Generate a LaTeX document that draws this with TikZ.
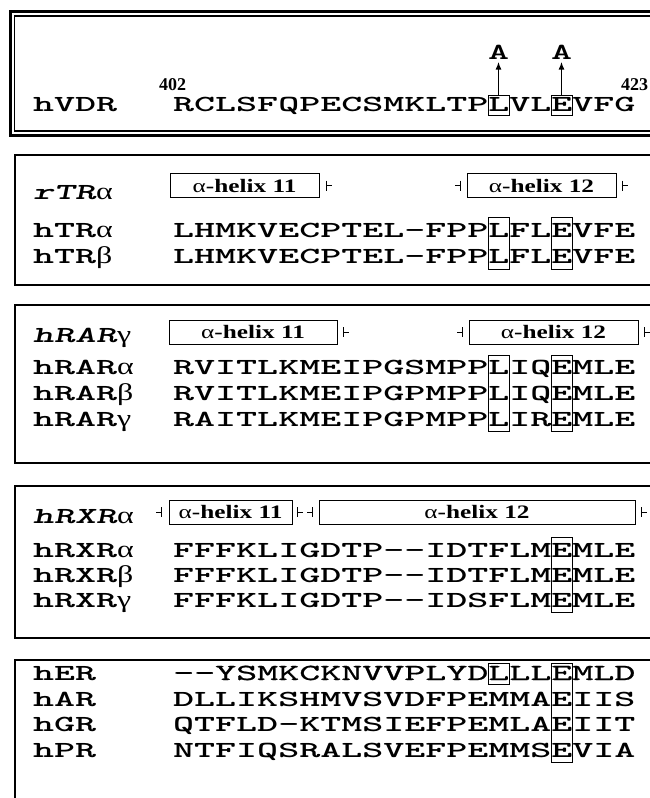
\documentclass[tikz,border=0pt]{standalone}
\usepackage{fontspec}
\usetikzlibrary{positioning,arrows.meta}
\newfontfamily\seqfont[FakeStretch=1.74]{lmmonolt10-bold.otf}
\newfontfamily\seqslant[FakeStretch=1.74,FakeSlant=0.2]{lmmonolt10-bold.otf}
\newfontfamily\seqlight[FakeStretch=1.74,FakeBold=1]{lmmono10-regular.otf}
\newfontfamily\tms[FakeStretch=1.33]{Liberation Serif}
\newfontfamily\tmsplain{Liberation Serif}
\newcommand\gk[1]{{\tms\fontsize{24}{24}\selectfont #1}}
\newcommand\hlx[1]{{\tms\fontsize{19}{19}\selectfont α\bfseries-helix #1}}
\newcommand\gap{\mbox{-}}

\begin{document}
\begin{tikzpicture}[x=1pt,y=-1pt,
  panel/.style={draw,line width=1.8pt},
  rowlbl/.style={anchor=base west,inner sep=0pt,font=\fontsize{23}{23}\seqfont},
  hdrlbl/.style={anchor=base west,inner sep=0pt,font=\fontsize{23}{23}\seqslant},
  seqtxt/.style={rowlbl},
  helix/.style={draw,line width=0.9pt,minimum height=24pt,inner sep=0pt},
  helixend/.style={line width=0.9pt},
  hitbox/.style={draw,line width=0.9pt,inner sep=0pt,minimum width=21pt},
  resnum/.style={anchor=base west,inner sep=0pt,font=\fontsize{18}{18}\tmsplain\bfseries},
  mutA/.style={inner sep=2pt,font=\fontsize{23}{23}\seqfont},
  mutarrow/.style={-{Latex[length=8pt,width=6pt]},line width=1.6pt}]
\fill[white] (0,0) rectangle (650,798);
\useasboundingbox (0,0) rectangle (650,798);
\clip (0,0) rectangle (650,798);

% panels
\draw[line width=3pt] (10,11.5) rectangle (680,135.5);
\draw[line width=1.2pt] (14.5,16) rectangle (676,131);
\draw[panel] (15,155) rectangle (680,285);
\draw[panel] (15,305) rectangle (680,463);
\draw[panel] (15,486) rectangle (680,638);
\draw[panel] (15,660) rectangle (680,830);

% VDR
\node[rowlbl] (vdr) at (33,111) {hVDR};
\node[seqtxt] (vdrseq) at (173,111) {RCLSFQPECSMKLTPLVLEVFG};
\node[resnum] (n402) at (159,90) {402};
\node[resnum] (n423) at (621,90) {423};
\node[hitbox,minimum height=20pt] (vdrL) at (498.5,105) {};
\node[hitbox,minimum height=20pt] (vdrE) at (561.5,105) {};
\node[mutA,above=33pt of vdrL] (mutL) {A};
\node[mutA,above=33pt of vdrE] (mutE) {A};
\draw[mutarrow] (vdrL) -- (mutL);
\draw[mutarrow] (vdrE) -- (mutE);

% TR
\node[hdrlbl] (rtra) at (33,199) {rTR\gk{α}};
\node[helix,minimum width=149pt] (tr11) at (244.5,185.5) {\hlx{11}};
\node[helix,minimum width=149pt] (tr12) at (541.5,185.5) {\hlx{12}};
\draw[helixend] ([xshift=7pt]tr11.east) ++(0,-5) -- ++(0,10) ++(0,-5) -- ++(6,0);
\draw[helixend] ([xshift=-6pt]tr12.west) ++(0,-5) -- ++(0,10) ++(0,-5) -- ++(-6,0);
\draw[helixend] ([xshift=6pt]tr12.east) ++(0,-5) -- ++(0,10) ++(0,-5) -- ++(6,0);
\node[rowlbl] (htra) at (33,237) {hTR\gk{α}};
\node[seqtxt] (htraseq) at (173,237) {LHMKVECPTEL\gap FPPLFLEVFE};
\node[rowlbl] (htrb) at (33,263) {hTR\gk{β}};
\node[seqtxt] (htrbseq) at (173,263) {LHMKVECPTEL\gap FPPLFLEVFE};
\node[hitbox,minimum height=52pt] (trL) at (498.5,243) {};
\node[hitbox,minimum height=52pt] (trE) at (561.5,243) {};

% RAR
\node[hdrlbl] (rarg) at (33,342) {hRAR\gk{γ}};
\node[helix,minimum width=168pt] (rar11) at (253,332) {\hlx{11}};
\node[helix,minimum width=169pt] (rar12) at (553.5,332) {\hlx{12}};
\draw[helixend] ([xshift=6pt]rar11.east) ++(0,-5) -- ++(0,10) ++(0,-5) -- ++(6,0);
\draw[helixend] ([xshift=-6pt]rar12.west) ++(0,-5) -- ++(0,10) ++(0,-5) -- ++(-6,0);
\draw[helixend] ([xshift=6pt]rar12.east) ++(0,-5) -- ++(0,10) ++(0,-5) -- ++(6,0);
\node[rowlbl] (hrara) at (33,374) {hRAR\gk{α}};
\node[seqtxt] (hraraseq) at (173,374) {RVITLKMEIPGSMPPLIQEMLE};
\node[rowlbl] (hrarb) at (33,400) {hRAR\gk{β}};
\node[seqtxt] (hrarbseq) at (173,400) {RVITLKMEIPGPMPPLIQEMLE};
\node[rowlbl] (hrarg) at (33,426) {hRAR\gk{γ}};
\node[seqtxt] (hrargseq) at (173,426) {RAITLKMEIPGPMPPLIREMLE};
\node[hitbox,minimum height=76pt] (rarL) at (498.5,393) {};
\node[hitbox,minimum height=76pt] (rarE) at (561.5,393) {};

% RXR
\node[hdrlbl] (rxra) at (33,523) {hRXR\gk{α}};
\node[helix,minimum width=123pt] (rxr11) at (230.5,512) {\hlx{11}};
\node[helix,minimum width=316pt] (rxr12) at (477,512) {\hlx{12}};
\draw[helixend] ([xshift=-7pt]rxr11.west) ++(0,-5) -- ++(0,10) ++(0,-5) -- ++(-6,0);
\draw[helixend] ([xshift=5pt]rxr11.east) ++(0,-5) -- ++(0,10) ++(0,-5) -- ++(6,0);
\draw[helixend] ([xshift=-6pt]rxr12.west) ++(0,-5) -- ++(0,10) ++(0,-5) -- ++(-6,0);
\draw[helixend] ([xshift=6pt]rxr12.east) ++(0,-5) -- ++(0,10) ++(0,-5) -- ++(6,0);
\node[rowlbl] (hrxra) at (33,557) {hRXR\gk{α}};
\node[seqtxt] (hrxraseq) at (173,557) {FFFKLIGDTP\gap\gap IDTFLMEMLE};
\node[rowlbl] (hrxrb) at (33,582) {hRXR\gk{β}};
\node[seqtxt] (hrxrbseq) at (173,582) {FFFKLIGDTP\gap\gap IDTFLMEMLE};
\node[rowlbl] (hrxrg) at (33,607) {hRXR\gk{γ}};
\node[seqtxt] (hrxrgseq) at (173,607) {FFFKLIGDTP\gap\gap IDSFLMEMLE};
\node[hitbox,minimum height=75pt] (rxrE) at (561.5,574.5) {};

% steroid receptors
\node[rowlbl] (her) at (33,680) {hER};
\node[seqtxt,font=\fontsize{23}{23}\seqlight] (herseq) at (173,680) {\gap\gap YSMKCKNVVPLYDLLLEMLD};
\node[rowlbl] (har) at (33,706) {hAR};
\node[seqtxt] (harseq) at (173,706) {DLLIKSHMVSVDFPEMMAEIIS};
\node[rowlbl] (hgr) at (33,731) {hGR};
\node[seqtxt] (hgrseq) at (173,731) {QTFLD\gap KTMSIEFPEMLAEIIT};
\node[rowlbl] (hpr) at (33,757) {hPR};
\node[seqtxt] (hprseq) at (173,757) {NTFIQSRALSVEFPEMMSEVIA};
\node[hitbox,minimum height=21pt] (erL) at (498.5,674) {};
\node[hitbox,minimum height=99pt] (srE) at (561.5,712.5) {};
\end{tikzpicture}
\end{document}
